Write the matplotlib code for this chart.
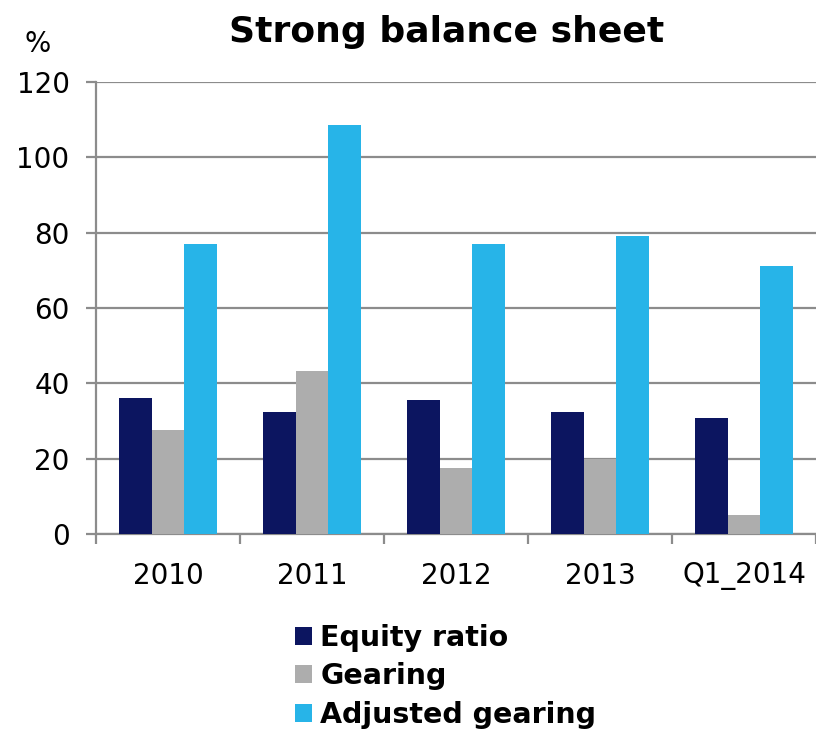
import matplotlib.pyplot as plt
import numpy as np

categories = ["2010", "2011", "2012", "2013", "Q1_2014"]
equity_ratio = [36.0, 32.5, 35.7, 32.5, 30.7]
gearing = [27.7, 43.2, 17.4, 20.0, 5.0]
adjusted_gearing = [77.1, 108.5, 77.0, 79.1, 71.2]

series = [
    ("Equity ratio", equity_ratio, "#0c1560"),
    ("Gearing", gearing, "#adadad"),
    ("Adjusted gearing", adjusted_gearing, "#27b4e8"),
]

fig = plt.figure(figsize=(8.16, 7.30), dpi=100)
ax = fig.add_axes([96 / 816, 1 - 534 / 730, 1 - 96 / 816, (534 - 82) / 730])

x = np.arange(len(categories))
w = 0.225
for i, (name, vals, col) in enumerate(series):
    ax.bar(x + (i - 1) * w, vals, width=w, color=col, label=name, zorder=3)

ax.set_xlim(-0.5, 4.5)
ax.set_ylim(0, 120)
ax.set_yticks(range(0, 121, 20))
ax.yaxis.grid(True, color="#8c8c8c", linewidth=1.6, zorder=0)

# category separators on the x axis
ax.set_xticks(np.arange(-0.5, 5, 1))
ax.set_xticklabels([])
ax.set_xticks(x, minor=True)
ax.set_xticklabels(categories, minor=True)
ax.tick_params(axis="x", which="major", length=7.5, width=1.6, color="#8c8c8c")
ax.tick_params(axis="x", which="minor", length=0, pad=20, labelsize=20)
ax.tick_params(axis="y", length=7, width=1.6, color="#8c8c8c", labelsize=20, pad=12)

for s in ["top", "right"]:
    ax.spines[s].set_visible(False)
for s in ["left", "bottom"]:
    ax.spines[s].set_color("#8c8c8c")
    ax.spines[s].set_linewidth(1.6)

fig.text(447 / 816, 1 - 32 / 730, "Strong balance sheet", ha="center", va="center",
         fontsize=26, fontweight="bold")
fig.text(38 / 816, 1 - 44 / 730, "%", ha="center", va="center", fontsize=20)

ax.legend(loc="upper left", bbox_to_anchor=(269 / 816, 1 - 598 / 730),
          bbox_transform=fig.transFigure, frameon=False, handlelength=0.6,
          handleheight=0.6, handletextpad=0.3, labelspacing=0.38,
          prop={"weight": "bold", "size": 20.5})

fig.savefig("out.png", dpi=100)
